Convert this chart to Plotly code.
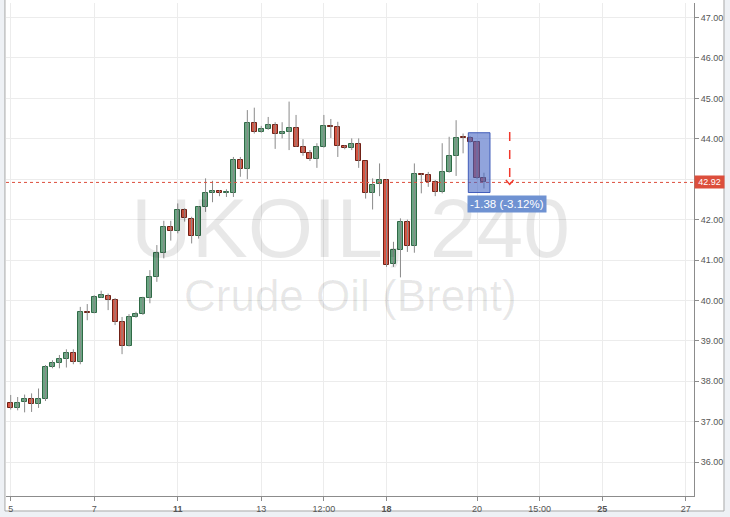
import plotly.graph_objects as go

# 4h candles, UKOIL
opens = [37.45, 37.33, 37.48, 37.57, 37.43, 37.57, 38.36, 38.44, 38.55, 38.70,
         38.47, 39.72, 39.69, 40.07, 40.12, 40.02, 39.47, 38.88, 39.58, 39.66,
         40.05, 40.57, 41.18, 41.82, 41.72, 42.24, 42.01, 41.60, 42.30, 42.65,
         42.71, 42.66, 42.65, 43.47, 43.24, 44.38, 44.16, 44.24, 44.34, 44.11,
         44.16, 44.26, 43.80, 43.64, 43.50, 43.79, 44.31, 44.29, 43.82, 43.78,
         43.86, 43.45, 42.65, 42.87, 42.99, 40.89, 41.25, 41.95, 41.35, 43.13,
         43.10, 42.92, 42.69, 43.18, 43.57, 44.03, 44.01, 43.93, 43.02]
highs = [37.66, 37.61, 37.67, 37.70, 37.82, 38.40, 38.52, 38.65, 38.79, 38.79,
         39.84, 39.91, 40.13, 40.24, 40.17, 40.06, 39.59, 39.66, 39.72, 40.09,
         40.75, 41.37, 41.97, 41.97, 42.40, 42.28, 42.07, 42.33, 43.02, 42.96,
         42.73, 42.75, 43.55, 43.55, 44.71, 44.77, 44.32, 44.54, 44.41, 44.41,
         44.92, 44.59, 43.99, 43.72, 43.89, 44.59, 44.49, 44.42, 43.84, 44.01,
         44.01, 43.45, 43.02, 43.39, 43.00, 41.45, 42.03, 42.00, 43.39, 43.14,
         43.18, 42.98, 43.89, 44.05, 44.46, 44.13, 44.07, 43.95, 43.16]
lows = [37.30, 37.28, 37.23, 37.24, 37.34, 37.51, 38.32, 38.32, 38.34, 38.42,
        38.42, 39.51, 39.68, 40.06, 39.76, 39.39, 38.67, 38.86, 39.57, 39.64,
        39.93, 40.46, 41.04, 41.48, 41.66, 41.95, 41.41, 41.53, 42.19, 42.43,
        42.58, 42.56, 42.56, 43.06, 43.00, 44.13, 44.15, 44.22, 43.75, 44.01,
        43.72, 43.80, 43.58, 43.45, 43.28, 43.78, 44.02, 43.55, 43.74, 43.72,
        43.28, 42.52, 42.25, 42.58, 40.83, 40.83, 40.57, 41.20, 41.18, 42.65,
        42.81, 42.58, 42.65, 43.16, 43.08, 43.64, 43.90, 43.00, 42.77]
closes = [37.33, 37.47, 37.57, 37.44, 37.57, 38.36, 38.44, 38.55, 38.70, 38.47,
          39.72, 39.69, 40.09, 40.13, 40.02, 39.47, 38.88, 39.58, 39.66, 40.05,
          40.57, 41.18, 41.82, 41.72, 42.24, 42.03, 41.60, 42.30, 42.65, 42.71,
          42.65, 42.68, 43.47, 43.24, 44.38, 44.16, 44.24, 44.34, 44.11, 44.16,
          44.26, 43.80, 43.64, 43.50, 43.79, 44.31, 44.29, 43.82, 43.78, 43.86,
          43.45, 42.65, 42.85, 42.99, 40.87, 41.25, 41.95, 41.35, 43.13, 43.10,
          42.92, 42.69, 43.18, 43.57, 44.03, 44.01, 43.93, 43.02, 42.92]

# x axis labels (candle index -> label)
tick_pos = [0, 12, 24, 36, 45, 54, 67, 76, 85, 97]
tick_text = ["5", "7", "<b>11</b>", "13", "12:00", "<b>18</b>", "20", "15:00", "<b>25</b>", "27"]
price_ticks = list(range(36, 48))

# price range tool drawn on the chart
range_x = [65.75, 68.87]
range_y = [42.67, 44.15]
range_text = "-1.38 (-3.12%)"
arrow_x = 71.7
arrow_y = [44.17, 42.85]

UP_FILL, UP_LINE = "#6ba583", "#2f6a46"
DOWN_FILL, DOWN_LINE = "#d75442", "#6f2116"
WICK = "#8a8a8a"
PRICE_RED = "#dc4e3c"

idx = list(range(len(opens)))
last_price = closes[-1]

# the price label on the axis hides the tick label it covers
price_labels = ["" if abs(v - last_price) < 0.25 else f"{v:.2f}" for v in price_ticks]

# wicks as one broken line
wx, wy = [], []
for i, h, l in zip(idx, highs, lows):
    wx += [i, i, None]
    wy += [l, h, None]

bases, heights, fills, edges = [], [], [], []
for o, c in zip(opens, closes):
    bases.append(min(o, c))
    heights.append(max(abs(c - o), 0.025))
    up = c >= o
    fills.append(UP_FILL if up else DOWN_FILL)
    edges.append(UP_LINE if up else DOWN_LINE)

fig = go.Figure()
fig.add_trace(go.Scatter(x=wx, y=wy, mode="lines", line=dict(color=WICK, width=1),
                         hoverinfo="skip", showlegend=False))
fig.add_trace(go.Bar(x=idx, y=heights, base=bases, width=0.72,
                     marker=dict(color=fills, line=dict(color=edges, width=1)),
                     showlegend=False))

shapes = [
    # white chart panel with frame
    dict(type="rect", xref="paper", yref="paper", x0=-0.0015, x1=1.0436, y0=-0.0304, y1=1.01,
         fillcolor="white", line=dict(color="#a8a8a8", width=1), layer="below"),
    # last price line
    dict(type="line", xref="paper", yref="y", x0=0, x1=1, y0=last_price, y1=last_price,
         line=dict(color=PRICE_RED, width=1, dash="dot")),
    # price range box
    dict(type="rect", xref="x", yref="y", x0=range_x[0], x1=range_x[1], y0=range_y[0], y1=range_y[1],
         fillcolor="rgba(72,104,196,0.6)", line=dict(color="rgba(50,80,180,0.9)", width=1)),
    # dashed arrow
    dict(type="line", xref="x", yref="y", x0=arrow_x, x1=arrow_x, y0=arrow_y[0], y1=arrow_y[1],
         line=dict(color="#f2382c", width=1.5, dash="dash")),
    dict(type="path", xref="x", yref="y",
         path=f"M {arrow_x - 0.55},{arrow_y[1] + 0.13} L {arrow_x},{arrow_y[1] + 0.02} L {arrow_x + 0.55},{arrow_y[1] + 0.13}",
         line=dict(color="#f2382c", width=1.5)),
]

annotations = [
    dict(text="UKOIL, 240", xref="paper", yref="paper", x=0.5, y=0.5436, showarrow=False,
         font=dict(family="Liberation Sans, Arial", size=84, color="rgba(0,0,0,0.09)")),
    dict(text="Crude Oil (Brent)", xref="paper", yref="paper", x=0.5, y=0.4077, showarrow=False,
         font=dict(family="Liberation Sans, Arial", size=44, color="rgba(0,0,0,0.09)")),
    dict(text=f"{last_price:.2f}", xref="paper", yref="y", x=1.0, y=last_price, xanchor="left",
         showarrow=False, bgcolor=PRICE_RED, borderpad=1, width=27,
         font=dict(family="Liberation Sans, Arial", size=9, color="white")),
    dict(text=range_text, xref="x", yref="y", x=range_x[0] - 0.15, y=range_y[0] - 0.07,
         xanchor="left", yanchor="top", showarrow=False, bgcolor="#6f92d2", borderpad=2,
         font=dict(family="Liberation Sans, Arial", size=11.5, color="white")),
]

fig.update_layout(
    width=730, height=517,
    margin=dict(l=6, r=36, t=3, b=21),
    paper_bgcolor="#eef1f5", plot_bgcolor="white",
    bargap=0, showlegend=False,
    shapes=shapes, annotations=annotations,
    font=dict(family="Liberation Sans, Arial", size=9, color="#555555"),
    xaxis=dict(range=[-0.675, 98.18], tickvals=tick_pos, ticktext=tick_text,
               showgrid=True, gridcolor="#ececec", zeroline=False,
               showline=True, linecolor="#8c8c8c", ticks="outside", ticklen=4,
               tickcolor="#8c8c8c", tickfont=dict(size=9, color="#555555")),
    yaxis=dict(range=[35.16, 47.36], side="right", tickvals=price_ticks, ticktext=price_labels,
               showgrid=True, gridcolor="#ececec", zeroline=False,
               showline=True, linecolor="#8c8c8c", ticks="outside", ticklen=4,
               tickcolor="#8c8c8c", tickfont=dict(size=9, color="#555555")),
)

# drop the default page margin so the figure fills the window
fig.write_html("out.html", config={"displayModeBar": False},
               post_script="document.body.style.margin='0';")
